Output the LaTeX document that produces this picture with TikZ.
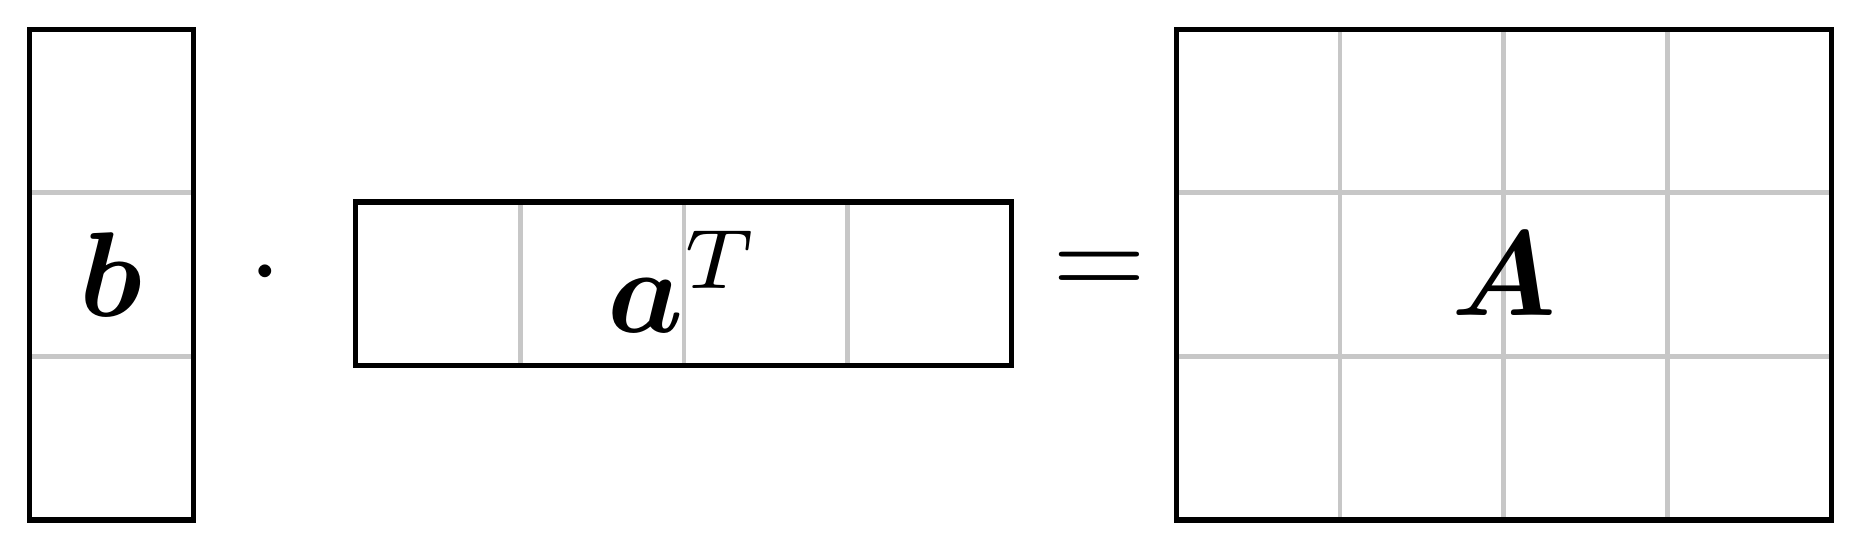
\documentclass[tikz,border=0pt]{standalone}
\usepackage{amsmath,bm}
\begin{document}
\begin{tikzpicture}[x=1cm,y=1cm,
  grid/.style={draw=black!22,line width=0.8pt},
  frame/.style={draw=black,line width=0.9pt},
  lbl/.style={scale=2.1,inner sep=0}]
\useasboundingbox (0,0) rectangle (11.362,3.41);
% b
\draw[grid] (0.181,1.232)--(1.181,1.232) (0.181,2.232)--(1.181,2.232);
\draw[frame] (0.181,0.232) rectangle (1.181,3.232);
\node[lbl] (b) at (0.681,1.732) {$\bm{b}$};
\node[lbl] (dot) at (1.623,1.732) {$\cdot$};
% a^T
\draw[grid] (3.181,1.175)--(3.181,2.175) (4.181,1.175)--(4.181,2.175) (5.181,1.175)--(5.181,2.175);
\draw[frame] (2.174,1.175) rectangle (6.181,2.175);
\node[lbl] (a) at (4.181,1.69) {$\bm{a}^T$};
\node[lbl] (eq) at (6.72,1.732) {$=$};
% A
\draw[grid] (8.19,0.232)--(8.19,3.232) (9.19,0.232)--(9.19,3.232) (10.19,0.232)--(10.19,3.232)
  (7.188,1.232)--(11.196,1.232) (7.188,2.232)--(11.196,2.232);
\draw[frame] (7.188,0.232) rectangle (11.196,3.232);
\node[lbl] (A) at (9.19,1.732) {$\bm{A}$};
\end{tikzpicture}
\end{document}
